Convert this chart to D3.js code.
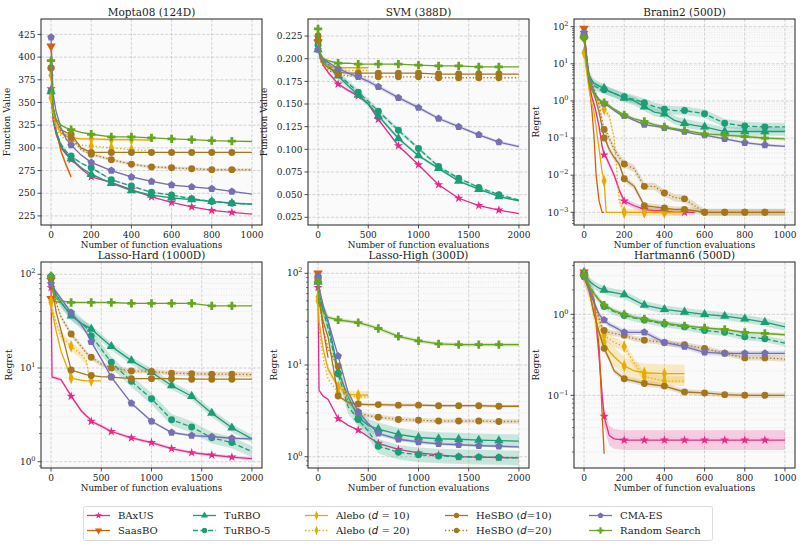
<!DOCTYPE html>
<html>
<head>
<meta charset="utf-8">
<script src="https://cdn.jsdelivr.net/npm/d3@7"></script>
<style>
  body { margin: 0; background: #fff; }
  svg text { font-family: "DejaVu Serif", serif; fill: #222; }
</style>
</head>
<body>
<div id="chart"></div>
<script>
// series in legend order
var seriesKeys = ["baxus", "saasbo", "turbo", "turbo5", "alebo10", "alebo20", "hesbo10", "hesbo20", "cmaes", "rs"];
var seriesNames = ["BAxUS", "SaasBO", "TuRBO", "TuRBO-5", "Alebo (d = 10)", "Alebo (d = 20)", "HeSBO (d=10)", "HeSBO (d=20)", "CMA-ES", "Random Search"];

// ---- Mopta08 (124D) ----
var moptaX = [0, 10, 25, 50, 75, 100, 150, 200, 300, 400, 500, 600, 700, 800, 900, 1000];
var mopta = {
  baxus:   [365, 330, 315, 300, 293, 287, 277, 268, 262, 254, 246, 240, 235, 231, 229, 227],
  saasbo:  [412, 345, 320, 296, 281, 268, null, null, null, null, null, null, null, null, null, null],
  turbo:   [362, 335, 318, 302, 294, 288, 278, 271, 261, 253, 248, 245, 243, 241, 239, 238],
  turbo5:  [362, 335, 318, 304, 296, 291, 283, 278, 265, 258, 251, 248, 244, 241, 239, 238],
  alebo10: [380, 340, 325, 316, 313, 311, 310, 310, 309, 309, 308.5, null, null, null, null, null],
  alebo20: [355, 332, 322, 313, 309, 306, 303, 302, 300, 298, 297, null, null, null, null, null],
  hesbo10: [388, 345, 330, 320, 317, 315, 300, 295, 295, 295, 295, 295, 295, 295, 295, 295],
  hesbo20: [388, 345, 330, 318, 314, 311, 298, 293, 287, 282, 279, 278, 277, 276, 276, 276],
  cmaes:   [422, 360, 340, 322, 310, 303, 292, 284, 275, 268, 263, 259, 257, 255, 252, 249],
  rs:      [396, 345, 332, 325, 322, 320, 317, 315, 312, 312, 311, 310, 309, 308, 307.5, 307]
};
var moptaBand = { saasbo: 0.012, turbo: 0.004, turbo5: 0.004, hesbo20: 0.006, alebo10: 0.005, cmaes: 0.003 };

// ---- SVM (388D) ----
var svmX = [0, 25, 50, 100, 200, 300, 400, 500, 600, 800, 1000, 1200, 1400, 1600, 1800, 2000];
var svm = {
  baxus:   [0.220, 0.200, 0.193, 0.185, 0.172, 0.165, 0.159, 0.150, 0.133, 0.104, 0.083, 0.061, 0.046, 0.038, 0.033, 0.029],
  saasbo:  [0.218, 0.205, 0.200, 0.196, null, null, null, null, null, null, null, null, null, null, null, null],
  turbo:   [0.210, 0.200, 0.197, 0.192, 0.181, 0.170, 0.160, 0.150, 0.137, 0.112, 0.093, 0.079, 0.065, 0.056, 0.048, 0.043],
  turbo5:  [0.215, 0.203, 0.199, 0.194, 0.183, 0.173, 0.163, 0.153, 0.142, 0.121, 0.101, 0.081, 0.068, 0.058, 0.050, 0.044],
  alebo10: [0.225, 0.200, 0.195, 0.192, 0.190, 0.190, 0.190, 0.190, null, null, null, null, null, null, null, null],
  alebo20: [0.220, 0.197, 0.192, 0.189, 0.188, 0.187, 0.187, 0.187, null, null, null, null, null, null, null, null],
  hesbo10: [0.225, 0.200, 0.195, 0.190, 0.185, 0.184, 0.184, 0.184, 0.184, 0.184, 0.184, 0.183, 0.183, 0.183, 0.183, 0.183],
  hesbo20: [0.220, 0.198, 0.192, 0.187, 0.183, 0.181, 0.181, 0.180, 0.180, 0.180, 0.180, 0.179, 0.179, 0.179, 0.179, 0.179],
  cmaes:   [0.210, 0.203, 0.199, 0.196, 0.189, 0.184, 0.180, 0.175, 0.169, 0.157, 0.146, 0.134, 0.125, 0.116, 0.108, 0.103],
  rs:      [0.233, 0.205, 0.200, 0.198, 0.195, 0.195, 0.194, 0.194, 0.194, 0.194, 0.193, 0.192, 0.192, 0.191, 0.191, 0.191]
};
var svmBand = { turbo: 0.02, turbo5: 0.02, cmaes: 0.015, baxus: 0.01 };

// ---- Branin2 (500D) ----
var braninX = [0, 10, 25, 40, 50, 60, 75, 90, 100, 110, 125, 150, 175, 200, 250, 300, 350, 400, 450, 500, 550, 600, 700, 800, 900, 1000];
var branin = {
  baxus:   [70, 25, 3, 1.2, 0.8, 0.5, 0.2, 0.06, 0.035, 0.03, 0.02, 0.01, 0.004, 0.002, 0.0015, 0.0012, 0.0011, 0.0011, 0.001, 0.001, 0.001, null, null, null, null, null],
  saasbo:  [90, 20, 3, 0.5, 0.1, 0.01, 0.002, 0.001, 0.001, null, null, null, null, null, null, null, null, null, null, null, null, null, null, null, null, null],
  turbo:   [60, 15, 5, 3.5, 3.0, 2.8, 2.5, 2.3, 2.2, 2.0, 1.8, 1.6, 1.4, 1.2, 1.0, 0.7, 0.5, 0.45, 0.3, 0.25, 0.22, 0.2, 0.15, 0.15, 0.15, 0.15],
  turbo5:  [60, 12, 4, 3, 2.6, 2.4, 2.2, 2.1, 2.0, 1.9, 1.8, 1.6, 1.4, 1.3, 1.1, 0.9, 0.7, 0.6, 0.55, 0.55, 0.5, 0.45, 0.25, 0.21, 0.2, 0.2],
  alebo10: [20, 8, 2, 0.8, 0.5, 0.2, 0.05, 0.012, 0.007, 0.001, 0.001, 0.001, 0.001, 0.001, 0.001, 0.001, 0.001, 0.001, 0.001, 0.001, null, null, null, null, null, null],
  alebo20: [50, 10, 3, 2, 1.5, 1.2, 0.9, 0.7, 0.6, 0.5, 0.4, 0.1, 0.002, 0.001, 0.001, 0.001, 0.001, 0.001, 0.001, 0.001, null, null, null, null, null, null],
  hesbo10: [50, 15, 3, 2, 1.5, 1, 0.5, 0.2, 0.1, 0.08, 0.05, 0.03, 0.02, 0.008, 0.005, 0.0015, 0.0014, 0.0013, 0.0012, 0.0012, 0.0011, 0.001, 0.001, 0.001, 0.001, 0.001],
  hesbo20: [60, 20, 5, 3, 2, 1.5, 0.8, 0.3, 0.17, 0.15, 0.1, 0.05, 0.03, 0.02, 0.015, 0.005, 0.005, 0.0033, 0.0025, 0.0023, 0.0015, 0.001, 0.001, 0.001, 0.001, 0.001],
  cmaes:   [70, 20, 5, 2.5, 1.8, 1.4, 1.1, 0.9, 0.85, 0.8, 0.7, 0.55, 0.45, 0.4, 0.3, 0.23, 0.21, 0.19, 0.17, 0.15, 0.13, 0.12, 0.095, 0.075, 0.065, 0.06],
  rs:      [50, 15, 4, 2, 1.6, 1.3, 1.1, 0.95, 0.9, 0.85, 0.75, 0.6, 0.5, 0.42, 0.33, 0.28, 0.23, 0.2, 0.18, 0.16, 0.145, 0.13, 0.12, 0.11, 0.1, 0.095]
};
var braninBand = { baxus: 0.2, turbo: 0.3, turbo5: 0.3, alebo20: 0.25, hesbo10: 0.2, hesbo20: 0.25, cmaes: 0.08, rs: 0.1 };

// ---- Lasso-Hard (1000D) ----
var lhardX = [0, 10, 50, 100, 200, 300, 350, 380, 400, 500, 600, 800, 1000, 1200, 1400, 1600, 1800, 2000];
var lhard = {
  baxus:   [72, 8, 7.8, 7.5, 5.0, 3.5, 3.1, 2.9, 2.7, 2.4, 2.1, 1.8, 1.6, 1.38, 1.25, 1.18, 1.12, 1.08],
  saasbo:  [55, 53, 51, 50, null, null, null, null, null, null, null, null, null, null, null, null, null, null],
  turbo:   [95, 80, 60, 50, 36, 30, 28, 27, 26, 21, 17, 12, 9, 6.5, 5, 3.3, 2.3, 1.75],
  turbo5:  [95, 80, 60, 50, 37, 30, 27, 25, 22, 16, 11.5, 7.2, 4.7, 2.8, 2.35, 1.8, 1.6, 1.28],
  alebo10: [52, 40, 25, 15, 7.8, 7.4, 7.3, 7.3, 7.3, 7.3, null, null, null, null, null, null, null, null],
  alebo20: [50, 45, 30, 22, 17, 14, 12, 7.8, null, null, null, null, null, null, null, null, null, null],
  hesbo10: [90, 75, 40, 25, 9.5, 8.8, 8.5, 8.4, 8.3, 8.1, 8.0, 7.7, 7.7, 7.7, 7.6, 7.6, 7.6, 7.6],
  hesbo20: [90, 80, 50, 35, 23, 17, 14.5, 13.5, 13, 11, 10, 9.3, 9.2, 8.8, 8.7, 8.6, 8.6, 8.5],
  cmaes:   [80, 75, 65, 55, 39, 29, 24, 21, 19, 12.5, 8.0, 4.2, 2.7, 2.05, 1.9, 1.85, 1.78, 1.75],
  rs:      [95, 70, 55, 52, 50, 50, 50, 50, 50, 50, 50, 49, 49, 49, 49, 46, 46, 46]
};
var lhardBand = { baxus: 0.04, turbo: 0.1, turbo5: 0.15, alebo20: 0.12, hesbo20: 0.06, cmaes: 0.03 };

// ---- Lasso-High (300D) ----
var lhighX = [0, 10, 50, 100, 200, 300, 400, 500, 600, 800, 1000, 1200, 1400, 1600, 1800, 2000];
var lhigh = {
  baxus:   [70, 5.3, 4.6, 4.2, 2.6, 2.2, 1.95, 1.65, 1.4, 1.2, 1.1, 1.05, 1.0, 0.99, 0.98, 0.97],
  saasbo:  [100, 60, 25, 12, null, null, null, null, null, null, null, null, null, null, null, null],
  turbo:   [80, 60, 40, 30, 8.5, 4.5, 2.7, 2.2, 2.0, 1.75, 1.62, 1.57, 1.55, 1.52, 1.5, 1.48],
  turbo5:  [85, 60, 40, 25, 8, 3.5, 2.55, 1.9, 1.3, 1.12, 1.05, 1.02, 1.0, 0.99, 0.98, 0.97],
  alebo10: [55, 30, 15, 9, 5.8, 4.8, 4.7, 4.7, null, null, null, null, null, null, null, null],
  alebo20: [50, 25, 12, 7, 5.0, 4.6, 4.5, 4.5, null, null, null, null, null, null, null, null],
  hesbo10: [90, 50, 30, 20, 4.6, 3.9, 3.75, 3.7, 3.7, 3.65, 3.65, 3.6, 3.6, 3.6, 3.55, 3.55],
  hesbo20: [90, 50, 25, 15, 9.7, 4.0, 3.0, 2.8, 2.7, 2.55, 2.5, 2.45, 2.45, 2.45, 2.42, 2.42],
  cmaes:   [93, 70, 45, 30, 12.5, 5, 3.1, 2.3, 1.8, 1.55, 1.45, 1.38, 1.35, 1.32, 1.3, 1.28],
  rs:      [80, 45, 38, 33, 31, 30, 29, 27, 25, 20.5, 18.3, 17, 16.7, 16.7, 16.7, 16.7]
};
var lhighBand = { turbo: 0.18, turbo5: 0.2, alebo10: 0.1, hesbo10: 0.04, hesbo20: 0.06, rs: 0.05, cmaes: 0.03 };

// ---- Hartmann6 (500D) ----
var hartX = [0, 25, 50, 75, 90, 100, 125, 150, 200, 250, 300, 400, 500, 600, 700, 800, 900, 1000];
var hart = {
  baxus:   [3.2, 2.2, 1.5, 0.3, 0.1, 0.055, 0.032, 0.029, 0.028, 0.028, 0.028, 0.028, 0.028, 0.028, 0.028, 0.028, 0.028, 0.028],
  saasbo:  [3.3, 2.3, 1.5, 0.4, 0.06, 0.019, null, null, null, null, null, null, null, null, null, null, null, null],
  turbo:   [3.3, 2.6, 2.3, 2.1, 2.05, 2.0, 1.9, 1.85, 1.75, 1.5, 1.3, 1.15, 1.07, 1.0, 0.95, 0.88, 0.8, 0.7],
  turbo5:  [3.0, 2.3, 1.8, 1.5, 1.35, 1.25, 1.15, 1.08, 0.97, 0.9, 0.85, 0.76, 0.7, 0.63, 0.6, 0.53, 0.5, 0.44],
  alebo10: [3.0, 2.0, 1.0, 0.6, 0.5, 0.45, 0.35, 0.3, 0.23, 0.2, 0.19, 0.185, 0.185, null, null, null, null, null],
  alebo20: [3.0, 2.2, 1.4, 0.8, 0.6, 0.55, 0.5, 0.45, 0.4, 0.25, 0.17, 0.15, 0.15, null, null, null, null, null],
  hesbo10: [3.0, 2.0, 1.0, 0.6, 0.45, 0.38, 0.28, 0.2, 0.16, 0.15, 0.14, 0.13, 0.11, 0.107, 0.102, 0.1, 0.1, 0.1],
  hesbo20: [3.0, 2.2, 1.4, 0.9, 0.7, 0.63, 0.6, 0.58, 0.55, 0.5, 0.48, 0.45, 0.42, 0.38, 0.33, 0.29, 0.29, 0.28],
  cmaes:   [2.9, 2.0, 1.4, 1.0, 0.9, 0.85, 0.75, 0.7, 0.6, 0.6, 0.6, 0.45, 0.4, 0.34, 0.33, 0.33, 0.33, 0.33],
  rs:      [3.0, 2.2, 1.8, 1.5, 1.4, 1.3, 1.2, 1.1, 1.0, 0.92, 0.87, 0.78, 0.72, 0.68, 0.65, 0.6, 0.58, 0.56]
};
var hartBand = { baxus: 0.32, alebo10: 0.3, alebo20: 0.15, turbo: 0.12, turbo5: 0.1, hesbo10: 0.08, hesbo20: 0.08, cmaes: 0.08, rs: 0.04 };

// styles
var colors = { baxus: "#e7298a", saasbo: "#d95f02", turbo: "#1b9e77", turbo5: "#1b9e77", alebo10: "#e6ab02", alebo20: "#e6ab02",
               hesbo10: "#a6761d", hesbo20: "#a6761d", cmaes: "#7570b3", rs: "#66a61e" };
var dashes = { turbo5: "5,2.5", alebo20: "1.3,2.2", hesbo20: "1.3,2.2" };
var symbols = { baxus: "star", saasbo: "tridown", turbo: "tri", turbo5: "circle", alebo10: "diamond", alebo20: "diamond",
                hesbo10: "circle", hesbo20: "circle", cmaes: "pent", rs: "plus" };

var W = 804, H = 548;
var svg = d3.select("#chart").append("svg").attr("width", W).attr("height", H);

var colX = [41, 308, 574], rowY = [19, 262], pw = 221, ph = 206;

var panels = [
  { title: "Mopta08 (124D)", xs: moptaX, ys: mopta, band: moptaBand, xmax: 1000, log: false,
    ydom: [215, 442], yticks: d3.range(225, 426, 25), ylabel: "Function Value", col: 0, row: 0, labOff: 31 },
  { title: "SVM (388D)", xs: svmX, ys: svm, band: svmBand, xmax: 2000, log: false,
    ydom: [0.0165, 0.2438], yticks: d3.range(0.025, 0.226, 0.025), ylabel: "Function Value", col: 1, row: 0, labOff: 41, fmt: ".3f" },
  { title: "Branin2 (500D)", xs: braninX, ys: branin, band: braninBand, xmax: 1000, log: true,
    ydom: [Math.pow(10, -3.342), Math.pow(10, 2.207)], ylabel: "Regret", col: 2, row: 0, labOff: 35 },
  { title: "Lasso-Hard (1000D)", xs: lhardX, ys: lhard, band: lhardBand, xmax: 2000, log: true,
    ydom: [Math.pow(10, -0.067), Math.pow(10, 2.131)], ylabel: "Regret", col: 0, row: 1, labOff: 29 },
  { title: "Lasso-High (300D)", xs: lhighX, ys: lhigh, band: lhighBand, xmax: 2000, log: true,
    ydom: [Math.pow(10, -0.123), Math.pow(10, 2.123)], ylabel: "Regret", col: 1, row: 1, labOff: 31 },
  { title: "Hartmann6 (500D)", xs: hartX, ys: hart, band: hartBand, xmax: 1000, log: true,
    ydom: [Math.pow(10, -1.897), Math.pow(10, 0.646)], ylabel: "Regret", col: 2, row: 1, labOff: 35 }
];

function markerPath(kind, size) {
  if (kind == "star") return d3.symbol(d3.symbolStar, size * 0.7)();
  if (kind == "tri" || kind == "tridown") return d3.symbol(d3.symbolTriangle, size)();
  if (kind == "circle") return d3.symbol(d3.symbolCircle, size)();
  if (kind == "diamond") return d3.symbol(d3.symbolDiamond, size * 1.2)();
  if (kind == "plus") return d3.symbol(d3.symbolCross, size)();
  // pentagon
  var r = Math.sqrt(size / 2.38), pts = [];
  for (var i = 0; i < 5; i++) {
    var a = -Math.PI / 2 + i * 2 * Math.PI / 5;
    pts.push([r * Math.cos(a), r * Math.sin(a)]);
  }
  return "M" + pts.join("L") + "Z";
}
function markerTransform(kind) {
  if (kind == "tridown") return " rotate(180)";
  if (kind == "diamond") return " scale(0.7,1)";
  return "";
}

function supLabel(sel, exp) {
  sel.text("10");
  sel.append("tspan").attr("dy", -4).attr("font-size", "6.5px").text(exp < 0 ? "\u2212" + (-exp) : exp);
}

panels.forEach(function(p, pi) {
  var x0 = colX[p.col], y0 = rowY[p.row];
  var g = svg.append("g").attr("transform", "translate(" + x0 + "," + y0 + ")");
  var x = d3.scaleLinear().domain(p.xmax == 1000 ? [-50, 1050] : [-100, 2100]).range([0, pw]);
  var y = (p.log ? d3.scaleLog() : d3.scaleLinear()).domain(p.ydom).range([ph, 0]);

  g.append("rect").attr("width", pw).attr("height", ph).attr("fill", "#fafafa");

  var clipId = "clip" + pi;
  g.append("clipPath").attr("id", clipId).append("rect").attr("width", pw).attr("height", ph);

  // ticks
  var xticks = p.xmax == 1000 ? d3.range(0, 1001, 200) : d3.range(0, 2001, 500);
  var majors, minors = [];
  if (p.log) {
    var lo = Math.floor(Math.log10(p.ydom[0])), hi = Math.ceil(Math.log10(p.ydom[1]));
    majors = [];
    for (var e = lo; e <= hi; e++) {
      var v = Math.pow(10, e);
      if (v >= p.ydom[0] && v <= p.ydom[1]) majors.push(e);
      for (var k = 2; k < 10; k++) {
        var m = k * v;
        if (m >= p.ydom[0] && m <= p.ydom[1]) minors.push(m);
      }
    }
  } else {
    majors = p.yticks;
  }

  var grid = g.append("g");
  minors.forEach(function(m) {
    grid.append("line").attr("x1", 0).attr("x2", pw).attr("y1", y(m)).attr("y2", y(m))
      .attr("stroke", "#d4d4d4").attr("stroke-width", 0.5).attr("stroke-dasharray", "1,1.5");
  });
  xticks.forEach(function(t) {
    grid.append("line").attr("x1", x(t)).attr("x2", x(t)).attr("y1", 0).attr("y2", ph)
      .attr("stroke", "#c8c8c8").attr("stroke-width", 0.8).attr("stroke-dasharray", "3,1.6");
  });
  majors.forEach(function(t) {
    var yy = p.log ? y(Math.pow(10, t)) : y(t);
    grid.append("line").attr("x1", 0).attr("x2", pw).attr("y1", yy).attr("y2", yy)
      .attr("stroke", "#c8c8c8").attr("stroke-width", 0.8).attr("stroke-dasharray", "3,1.6");
  });

  // series
  var plot = g.append("g").attr("clip-path", "url(#" + clipId + ")");
  var step = p.xmax == 1000 ? 100 : 200;
  seriesKeys.forEach(function(key) {
    var vals = p.ys[key];
    var pts = p.xs.map(function(xv, i) { return [xv, vals[i]]; }).filter(function(d) { return d[1] != null; });
    var f = p.band[key];
    if (f) {
      var area = d3.area()
        .x(function(d) { return x(d[0]); })
        .y0(function(d) { return y(p.log ? d[1] / (1 + f) : d[1] * (1 - f)); })
        .y1(function(d) { return y(p.log ? d[1] * (1 + f) : d[1] * (1 + f)); });
      plot.append("path").attr("d", area(pts)).attr("fill", colors[key]).attr("opacity", 0.22);
    }
    var line = d3.line().x(function(d) { return x(d[0]); }).y(function(d) { return y(d[1]); });
    plot.append("path").attr("d", line(pts)).attr("fill", "none").attr("stroke", colors[key])
      .attr("stroke-width", 1.3).attr("stroke-dasharray", dashes[key] || null);
    var last = pts[pts.length - 1][0];
    var marks = pts.filter(function(d) { return d[0] % step == 0 && d[0] < last; });
    plot.selectAll(null).data(marks).enter().append("path")
      .attr("d", markerPath(symbols[key], 38))
      .attr("transform", function(d) { return "translate(" + x(d[0]) + "," + y(d[1]) + ")" + markerTransform(symbols[key]); })
      .attr("fill", colors[key]);
  });

  // frame
  g.append("rect").attr("width", pw).attr("height", ph).attr("fill", "none").attr("stroke", "#222").attr("stroke-width", 1);

  // x axis ticks
  xticks.forEach(function(t) {
    g.append("line").attr("x1", x(t)).attr("x2", x(t)).attr("y1", ph).attr("y2", ph + 3.5).attr("stroke", "#222").attr("stroke-width", 0.8);
    g.append("text").attr("x", x(t)).attr("y", ph + 12.5).attr("text-anchor", "middle").attr("font-size", "9px").text(t);
  });
  g.append("text").attr("x", pw / 2).attr("y", ph + 22.5).attr("text-anchor", "middle").attr("font-size", "8.8px")
    .text("Number of function evaluations");

  // y axis ticks
  minors.forEach(function(m) {
    g.append("line").attr("x1", -2).attr("x2", 0).attr("y1", y(m)).attr("y2", y(m)).attr("stroke", "#222").attr("stroke-width", 0.6);
  });
  majors.forEach(function(t) {
    var yy = p.log ? y(Math.pow(10, t)) : y(t);
    g.append("line").attr("x1", -3.5).attr("x2", 0).attr("y1", yy).attr("y2", yy).attr("stroke", "#222").attr("stroke-width", 0.8);
    var tx = g.append("text").attr("x", -5.5).attr("y", yy + 3.2).attr("text-anchor", "end").attr("font-size", "9px");
    if (p.log) supLabel(tx, t);
    else tx.text(p.fmt ? d3.format(p.fmt)(t) : t);
  });
  g.append("text").attr("transform", "translate(" + (-p.labOff) + "," + (ph / 2) + ") rotate(-90)")
    .attr("text-anchor", "middle").attr("font-size", "9px").text(p.ylabel);

  g.append("text").attr("x", pw / 2).attr("y", -3.5).attr("text-anchor", "middle").attr("font-size", "10.5px").text(p.title);
});

// legend
var leg = svg.append("g");
leg.append("rect").attr("x", 83.5).attr("y", 506.5).attr("width", 629).attr("height", 34).attr("rx", 2)
  .attr("fill", "#fff").attr("stroke", "#d0d0d0").attr("stroke-width", 0.8);
var legCols = [87, 193, 305, 445, 589];
var legRows = [515.5, 530.5];
seriesKeys.forEach(function(key, i) {
  var cx = legCols[Math.floor(i / 2)], cy = legRows[i % 2];
  leg.append("line").attr("x1", cx).attr("x2", cx + 23).attr("y1", cy).attr("y2", cy)
    .attr("stroke", colors[key]).attr("stroke-width", 1.3).attr("stroke-dasharray", dashes[key] || null);
  leg.append("path").attr("d", markerPath(symbols[key], 22))
    .attr("transform", "translate(" + (cx + 11.5) + "," + cy + ")" + markerTransform(symbols[key]))
    .attr("fill", colors[key]);
  var t = leg.append("text").attr("x", cx + 31).attr("y", cy + 3.6).attr("font-size", "10px");
  var name = seriesNames[i];
  var m = name.match(/^(.*\()d( ?= ?)(\d+\))$/);
  if (m) {
    t.append("tspan").text(m[1]);
    t.append("tspan").attr("font-family", "DejaVu Sans").attr("font-style", "italic").text("d");
    t.append("tspan").text(m[2] + m[3]);
  } else {
    t.text(name);
  }
});
</script>
</body>
</html>
